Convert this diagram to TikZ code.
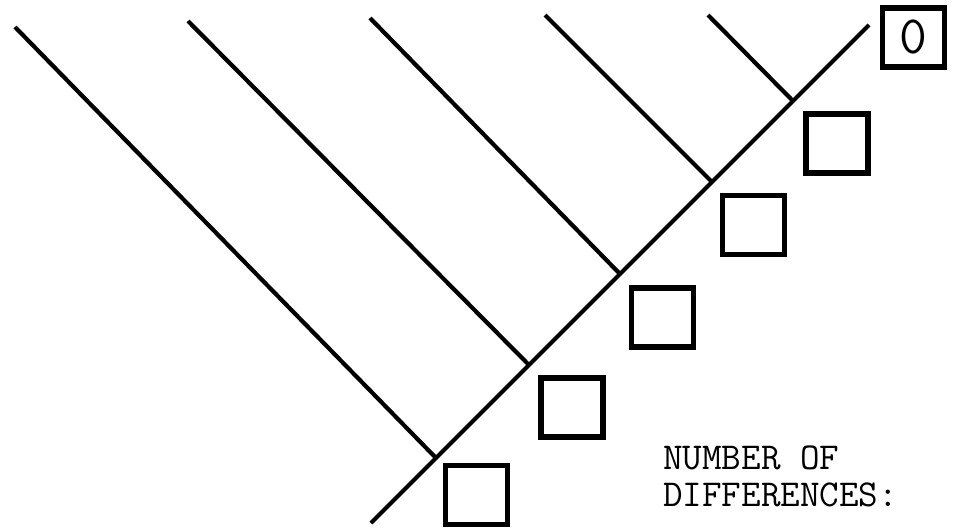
\documentclass[tikz,border=0pt]{standalone}
\usepackage{fontspec}
\begin{document}
\begin{tikzpicture}[x=1pt,y=-1pt,
  branch/.style={line width=4.2pt},
  numbox/.style={draw, line width=5.5pt, minimum width=62pt, minimum height=59pt, inner sep=0pt},
  labtext/.style={font=\ttfamily\fontsize{38}{40}\selectfont, inner sep=0pt, anchor=base west}]
\useasboundingbox (0,0) rectangle (954,530);
% main diagonal
\coordinate (m0) at (371,523);
\coordinate (m1) at (869,25);
% junctions
\coordinate (j1) at (436,458);
\coordinate (j2) at (529,365);
\coordinate (j3) at (620,274);
\coordinate (j4) at (712,182);
\coordinate (j5) at (793,101);
% branch tips
\coordinate (t1) at (15,27);
\coordinate (t2) at (188,21);
\coordinate (t3) at (370,18);
\coordinate (t4) at (545,15);
\coordinate (t5) at (708,15);
\draw[branch] (m0) -- (m1);
\draw[branch] (t1) -- (j1);
\draw[branch] (t2) -- (j2);
\draw[branch] (t3) -- (j3);
\draw[branch] (t4) -- (j4);
\draw[branch] (t5) -- (j5);
% boxes
\node[numbox, font=\ttfamily\fontsize{54}{56}\selectfont] (b0) at (913.5,37.5) {0};
\node[numbox] (b5) at (837,143.5) {};
\node[numbox] (b4) at (753.5,225) {};
\node[numbox] (b3) at (662.5,317.5) {};
\node[numbox] (b2) at (572,407.5) {};
\node[numbox] (b1) at (476.5,495) {};
% label
\node[labtext] (lab1) at (663,469) {NUMBER OF};
\node[labtext] (lab2) at (663,506) {DIFFERENCES:};
\end{tikzpicture}
\end{document}
